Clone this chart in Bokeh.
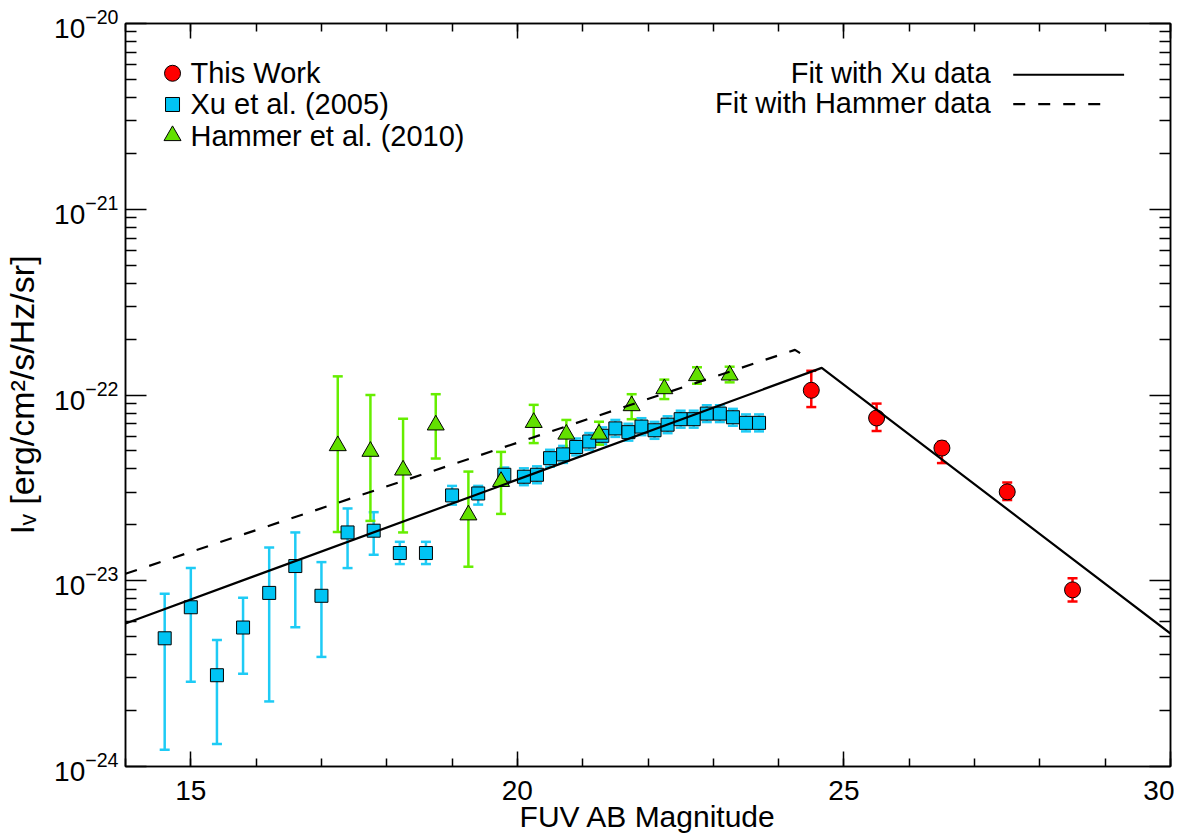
import numpy as np
from bokeh.plotting import figure
from bokeh.models import (ColumnDataSource, Whisker, TeeHead, FixedTicker,
                          LinearAxis, Range1d, CustomJSTickFormatter,
                          CustomLabelingPolicy)
from bokeh.core.properties import value
from bokeh.embed import file_html
from bokeh.resources import INLINE

FONT = "Liberation Sans"

# ---------------- data (intensities in units of 1e-23 erg/cm^2/s/Hz/sr) -------------
xu_mag = [14.6, 15.0, 15.4, 15.8, 16.2, 16.6, 17.0, 17.4, 17.8, 18.2, 18.6, 19.0, 19.4, 19.8,
          20.1, 20.3, 20.5, 20.7, 20.9, 21.1, 21.3, 21.5, 21.7, 21.9, 22.1, 22.3, 22.5, 22.7,
          22.9, 23.1, 23.3, 23.5, 23.7]
xu_val = [0.49, 0.72, 0.31, 0.56, 0.86, 1.20, 0.83, 1.82, 1.86, 1.41, 1.41, 2.88, 2.95, 3.72,
          3.63, 3.72, 4.57, 4.79, 5.25, 5.62, 6.03, 6.61, 6.31, 6.76, 6.46, 6.92, 7.41, 7.41,
          7.94, 7.94, 7.59, 7.08, 7.08]
xu_hi = [0.85, 1.17, 0.48, 0.81, 1.51, 1.82, 1.26, 2.45, 2.34, 1.62, 1.62, 3.24, 3.24, 4.07,
         4.03, 4.13, 5.07, 5.32, 5.83, 6.24, 6.69, 7.34, 7.00, 7.50, 7.17, 7.68, 8.23, 8.23,
         8.81, 8.81, 8.42, 7.86, 7.86]
xu_lo = [0.123, 0.286, 0.132, 0.316, 0.224, 0.562, 0.389, 1.17, 1.38, 1.23, 1.23, 2.57, 2.57, 3.31,
         3.27, 3.35, 4.11, 4.31, 4.73, 5.06, 5.43, 5.95, 5.68, 6.08, 5.81, 6.23, 6.67, 6.67,
         7.15, 7.15, 6.83, 6.37, 6.37]

ham_mag = [17.25, 17.75, 18.25, 18.75, 19.25, 19.75, 20.25, 20.75, 21.25, 21.75, 22.25, 22.75, 23.25]
ham_val = [5.33, 4.97, 3.94, 6.89, 2.26, 3.42, 7.11, 6.15, 6.15, 8.75, 10.8, 12.7, 12.8]
ham_hi = [12.6, 10.0, 7.45, 10.1, 3.87, 4.94, 8.85, 7.34, 7.18, 10.1, 12.1, 14.1, 14.2]
ham_lo = [1.83, 2.10, 1.82, 4.55, 1.19, 2.29, 5.51, 5.12, 5.40, 7.41, 9.51, 11.5, 11.7]

tw_mag = [24.5, 25.5, 26.5, 27.5, 28.5]
tw_val = [10.6, 7.52, 5.18, 3.01, 0.893]
tw_hi = [13.5, 8.99, 5.60, 3.38, 1.03]
tw_lo = [8.61, 6.40, 4.30, 2.72, 0.773]

fit_xu_mag = [14.0, 24.66, 30.0]
fit_xu_val = [0.589, 14.0, 0.52]
fit_ham_mag = [14.0, 24.25, 24.44]
fit_ham_val = [1.09, 17.5, 15.9]

x_ticks = [15, 20, 25, 30]
y_ticks = [1e-24, 1e-23, 1e-22, 1e-21, 1e-20]

legend_left = ["This Work", "Xu et al. (2005)", "Hammer et al. (2010)"]
legend_right = ["Fit with Xu data", "Fit with Hammer data"]

UNIT = 1e-23
RED = "#ff0000"
BLUE = "#00c4f4"
BLUE_ERR = "#1ecbf5"
GREEN = "#62e000"
GREEN_ERR = "#66ee00"

XMIN, XMAX = 14, 30
YMIN, YMAX = 1e-24, 1e-20


def sc(a):
    return [v * UNIT for v in a]


def frac(fx, fy):
    """axes-fraction -> data coordinates (for legend layout)"""
    return XMIN + fx * (XMAX - XMIN), 10 ** (np.log10(YMIN) + fy * (np.log10(YMAX) - np.log10(YMIN)))


p = figure(frame_width=1045, frame_height=743,
           x_range=Range1d(XMIN, XMAX), y_range=Range1d(YMIN, YMAX),
           y_axis_type="log", output_backend="svg", toolbar_location=None,
           min_border_left=117, min_border_right=4, min_border_top=23, min_border_bottom=66)
p.grid.visible = False
p.outline_line_color = "black"
p.outline_line_width = 1.5
p.background_fill_color = "white"
p.border_fill_color = "white"

xt = FixedTicker(ticks=x_ticks, minor_ticks=list(range(14, 31)))
yt = FixedTicker(ticks=y_ticks,
                 minor_ticks=[m * 10.0 ** e for e in range(-24, -20) for m in range(2, 10)])


def style_axis(ax, tin, mtin, labels=True):
    ax.major_tick_in = tin
    ax.major_tick_out = 0
    ax.minor_tick_in = mtin
    ax.minor_tick_out = 0
    ax.axis_line_width = 1.5
    ax.major_tick_line_width = 1.5
    ax.minor_tick_line_width = 1.5
    ax.axis_line_color = "black"
    ax.major_tick_line_color = "black"
    ax.minor_tick_line_color = "black"
    ax.major_label_text_font = FONT
    ax.major_label_text_color = "black"
    if labels:
        ax.major_label_text_font_size = "28px"
    else:
        ax.formatter = CustomJSTickFormatter(code="return ''")
        ax.major_label_policy = CustomLabelingPolicy(
            code="for (const i of Array.from(indices)) { indices.unset(i) }")
        ax.major_label_text_font_size = "1px"
        ax.major_label_standoff = 0


xa = p.xaxis[0]
xa.ticker = xt
style_axis(xa, 15, 8)
xa.major_label_standoff = 14
xa.axis_label = "FUV AB Magnitude"
xa.axis_label_text_font = FONT
xa.axis_label_text_font_size = "30px"
xa.axis_label_text_font_style = "normal"
xa.axis_label_text_color = "black"
xa.axis_label_standoff = -3

ya = p.yaxis[0]
ya.ticker = yt
style_axis(ya, 21, 11)
ya.major_label_standoff = 7
ya.axis_label = "I\u1d65 [erg/cm\u00b2/s/Hz/sr]"
ya.axis_label_text_font = FONT
ya.axis_label_text_font_size = "34px"
ya.axis_label_text_font_style = "normal"
ya.axis_label_text_color = "black"
ya.axis_label_standoff = 10

top = LinearAxis(ticker=xt)
style_axis(top, 15, 8, labels=False)
p.add_layout(top, "above")
right = LinearAxis(ticker=yt)
style_axis(right, 21, 11, labels=False)
p.add_layout(right, "right")

# ---------------- error bars ----------------
def add_err(mag, val, lo, hi, color):
    src = ColumnDataSource(dict(x=mag, y=sc(val), lo=sc(lo), hi=sc(hi)))
    w = Whisker(source=src, base="x", lower="lo", upper="hi", dimension="height",
                line_color=color, line_width=2.5,
                upper_head=TeeHead(size=10, line_color=color, line_width=2.5),
                lower_head=TeeHead(size=10, line_color=color, line_width=2.5))
    p.add_layout(w)
    return src


src_xu = add_err(xu_mag, xu_val, xu_lo, xu_hi, BLUE_ERR)
src_ham = add_err(ham_mag, ham_val, ham_lo, ham_hi, GREEN_ERR)
src_tw = add_err(tw_mag, tw_val, tw_lo, tw_hi, RED)

p.scatter("x", "y", source=src_xu, marker="square", size=13,
          fill_color=BLUE, line_color="black", line_width=1)
p.scatter("x", "y", source=src_ham, marker="triangle", size=17,
          fill_color=GREEN, line_color="black", line_width=1)
p.scatter("x", "y", source=src_tw, marker="circle", size=16,
          fill_color=RED, line_color="black", line_width=1)

# ---------------- fit lines ----------------
p.line(fit_xu_mag, sc(fit_xu_val), line_color="black", line_width=2.2)
p.line(fit_ham_mag, sc(fit_ham_val), line_color="black", line_width=2.2, line_dash="12 13")

# ---------------- legends ----------------
rows_left = [0.933, 0.891, 0.849]
mx, _ = frac(0.045, 0.5)
tx, _ = frac(0.0622, 0.5)
ly = [frac(0.5, f)[1] for f in rows_left]
p.scatter([mx], [ly[0]], marker="circle", size=16, fill_color=RED, line_color="black", line_width=1)
p.scatter([mx], [ly[1]], marker="square", size=14, fill_color=BLUE, line_color="black", line_width=1)
p.scatter([mx], [ly[2]], marker="triangle", size=17, fill_color=GREEN, line_color="black", line_width=1)
p.text(x=[tx] * 3, y=ly, text=legend_left, text_font=value(FONT), text_font_size="29px",
       text_baseline="middle", text_align="left", text_color="black")

rows_right_text = [0.933, 0.8925]
rows_right_line = [0.931, 0.8915]
rtx, _ = frac(0.8278, 0.5)
ry_t = [frac(0.5, f)[1] for f in rows_right_text]
ry_l = [frac(0.5, f)[1] for f in rows_right_line]
p.text(x=[rtx] * 2, y=ry_t, text=legend_right, text_font=value(FONT), text_font_size="29px",
       text_baseline="middle", text_align="right", text_color="black")
lx0, _ = frac(0.8495, 0.5)
lx1, _ = frac(0.9556, 0.5)
lx2, _ = frac(0.9407, 0.5)
p.line([lx0, lx1], [ry_l[0], ry_l[0]], line_color="black", line_width=2.2)
p.line([lx0, lx2], [ry_l[1], ry_l[1]], line_color="black", line_width=2.2, line_dash="12 13")

open("out.html", "w").write(file_html(p, INLINE))
